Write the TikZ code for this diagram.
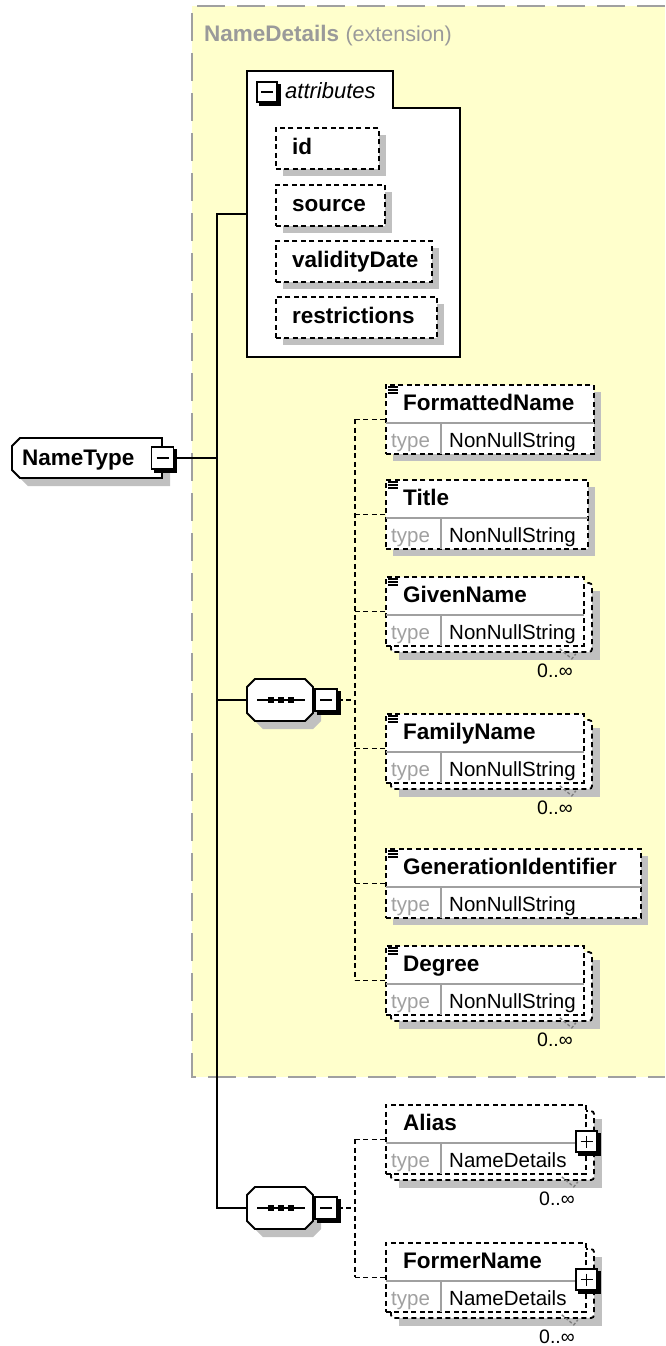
\documentclass[tikz,border=0pt]{standalone}
\usepackage{fontspec}
\setmainfont{Liberation Sans}
\usetikzlibrary{calc}
\definecolor{ybg}{HTML}{FFFFCC}
\definecolor{shd}{HTML}{C0C0C0}
\definecolor{ttl}{HTML}{9A9A9A}
\definecolor{tgray}{HTML}{A0A0A0}
\tikzset{
  con/.style={line width=1.8pt, draw=black},
  dcon/.style={line width=1.8pt, draw=black, dash pattern=on 5pt off 3.5pt},
  ebox/.style={draw=black, line width=1.8pt, dash pattern=on 5pt off 3.5pt, fill=white, inner sep=0pt, anchor=north west, minimum height=69pt},
  abox/.style={draw=black, line width=1.8pt, dash pattern=on 5pt off 3.5pt, fill=white, inner sep=0pt, anchor=north west, minimum height=41pt},
  nm/.style={font=\fontsize{22.5}{26}\selectfont\bfseries, anchor=base west, inner sep=0pt},
  tp/.style={font=\fontsize{20.5}{24}\selectfont, anchor=base west, inner sep=0pt},
  mult/.style={font=\fontsize{19.5}{22}\selectfont, anchor=base, inner sep=0pt},
  hid/.style={inner sep=0pt, outer sep=0pt},
}
\newcommand\XBox[5]{%
  \node[draw=black, fill=white, line width=1.8pt, minimum size=#4pt, inner sep=0pt] (#1) at (#2,#3) {};
  \draw[line width=2.8pt] ($(#1.north east)+(1.2,3)$) -- ($(#1.south east)+(1.2,1.2)$) -- ($(#1.south west)+(3,1.2)$);
  \draw[line width=1.8pt] ($(#1.center)+(-6,0)$) -- ($(#1.center)+(6,0)$);
  \ifnum#5=1 \draw[line width=1.8pt] ($(#1.center)+(0,-6)$) -- ($(#1.center)+(0,6)$);\fi
}
\newcommand\XElem[8]{%
  \ifnum#6=1
    \fill[shd] (399,#2+15) rectangle (#3+402,#2+84);
    \draw[dcon, fill=white, rounded corners=3pt] (391,#2+7) rectangle (#3+394,#2+76);
  \else
    \fill[shd] (393,#2+8) rectangle (#3+393,#2+77);
  \fi
  \node[ebox, minimum width=#3pt] (#1) at (385,#2) {};
  \draw[tgray, line width=1.5pt] ($(#1.north west)+(1,39)$) -- ($(#1.north east)+(-1,39)$);
  \draw[tgray, line width=1.5pt] ($(#1.north west)+(56,39)$) -- ($(#1.south west)+(56,-1)$);
  \node[nm] (#1n) at (403,#2+26) {#4};
  \node[tp, text=tgray] (#1k) at (391,#2+63) {type};
  \node[tp] (#1t) at (449,#2+63) {#5};
  \ifnum#7=1
    \foreach \k in {3,6,9} {\draw[line width=1.4pt] (388,#2+\k) -- (398,#2+\k);}
  \fi
  \ifnum#6=1
    \draw[line width=1.4pt, draw=gray, dash pattern=on 3pt off 2pt] ($(#1.south east)+(-25,2)$) -- ($(#1.south east)+(-13,12)$) -- ($(#1.south east)+(-9,7)$);
    \node[mult] (#1m) at (#3+357,#2+101) {0..∞};
  \fi
  \ifnum#8=1
    \XBox{#1p}{#3+386.5}{#2+37.5}{21}{1}
  \fi
}
\newcommand\XSeq[2]{%
  \fill[shd] (263,#2-13) -- (313,#2-13) -- (321,#2-5) -- (321,#2+21) -- (313,#2+29) -- (263,#2+29) -- (255,#2+21) -- (255,#2-5) -- cycle;
  \draw[fill=white, line width=1.8pt] (255,#2-21) -- (305,#2-21) -- (313,#2-13) -- (313,#2+13) -- (305,#2+21) -- (255,#2+21) -- (247,#2+13) -- (247,#2-13) -- cycle;
  \node[hid, minimum width=66pt, minimum height=42pt, anchor=west] (#1) at (247,#2) {};
  \draw[line width=1.8pt] ($(#1.west)+(10,0)$) -- ($(#1.east)+(-8,0)$);
  \foreach \k in {24,34,44} {\fill ($(#1.west)+(\k-3,-3)$) rectangle ++(6,6);}
  \XBox{#1m}{326}{#2}{22}{0}
}
\newcommand\XAttr[5]{%
  \fill[shd] (283,#2+8) rectangle (#3+283,#2+49);
  \node[abox, minimum width=#3pt] (#1) at (275,#2) {};
  \node[nm] (#1n) at (292,#2+27) {#4};
}
\begin{document}
\begin{tikzpicture}[x=1pt,y=-1pt]
\useasboundingbox (0,0) rectangle (665,1346);
\fill[white] (0,0) rectangle (665,1346);
% extension region
\fill[ybg] (192,6) rectangle (665,1077);
\draw[draw=tgray, line width=2.5pt, dash pattern=on 28pt off 12pt] (665,6) -- (192,6) -- (192,1077) -- (665,1077);
\node[nm, text=ttl] (ext) at (204,42) {NameDetails \fontsize{21.5}{26}\selectfont\mdseries(extension)};
% attributes
\node[hid, minimum width=213pt, minimum height=286pt, anchor=north west] (attr) at (247,71) {};
\draw[fill=white, line width=1.8pt] (247,71) -- (393,71) -- (393,108) -- (460,108) -- (460,357) -- (247,357) -- cycle;
\XBox{attrm}{267}{92}{20}{0}
\node[font=\fontsize{22}{26}\selectfont\itshape, anchor=base west, inner sep=0pt] (attrt) at (285,99) {attributes};
\XAttr{aid}{127}{103}{id}{}
\XAttr{asrc}{184}{109}{source}{}
\XAttr{aval}{240}{156}{validityDate}{}
\XAttr{ares}{296}{161}{restrictions}{}
% NameType
\fill[shd] (28,446) -- (170,446) -- (170,486) -- (28,486) -- (20,478) -- (20,454) -- cycle;
\draw[fill=white, line width=1.8pt] (20,438) -- (162,438) -- (162,478) -- (20,478) -- (12,470) -- (12,446) -- cycle;
\node[hid, minimum width=150pt, minimum height=40pt, anchor=north west] (nt) at (12,438) {};
\node[nm] (ntn) at (22,465) {NameType};
\XBox{ntm}{162.5}{458}{22}{0}
% sequences
\XSeq{seqa}{700}
\XSeq{seqb}{1208}
% elements
\XElem{fn}{384}{208}{FormattedName}{NonNullString}{0}{1}{0}
\XElem{ti}{479}{202}{Title}{NonNullString}{0}{1}{0}
\XElem{gn}{576}{198}{GivenName}{NonNullString}{1}{1}{0}
\XElem{fa}{713}{198}{FamilyName}{NonNullString}{1}{1}{0}
\XElem{ge}{848}{255}{GenerationIdentifier}{NonNullString}{0}{1}{0}
\XElem{de}{945}{198}{Degree}{NonNullString}{1}{1}{0}
\XElem{al}{1104}{200}{Alias}{NameDetails}{1}{0}{1}
\XElem{fo}{1242}{200}{FormerName}{NameDetails}{1}{0}{1}
% solid connectors
\coordinate (sp0) at (217,458);
\draw[con] (ntm.east) -- (sp0);
\draw[con] (attr.west) -| (sp0);
\draw[con] (seqa.west) -| (sp0);
\draw[con] (seqb.west) -| (sp0);
% dashed connectors, sequence 1
\draw[dcon] (seqam.east) -- ++(17,0) coordinate (spa);
\draw[dcon] (fn.west -| spa) -- (de.west -| spa);
\foreach \e in {fn,ti,gn,fa,ge,de} {\draw[dcon] (\e.west -| spa) -- (\e.west);}
% dashed connectors, sequence 2
\draw[dcon] (seqbm.east) -- ++(17,0) coordinate (spb);
\draw[dcon] (al.west -| spb) -- (fo.west -| spb);
\foreach \e in {al,fo} {\draw[dcon] (\e.west -| spb) -- (\e.west);}
\end{tikzpicture}
\end{document}
